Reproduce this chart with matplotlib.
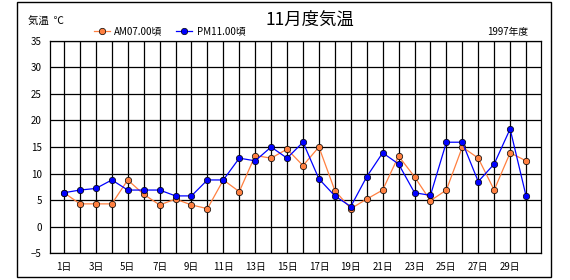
import matplotlib
matplotlib.use("Agg")
import matplotlib.pyplot as plt
from matplotlib.patches import Rectangle

plt.rcParams['font.family'] = ['Noto Sans CJK JP', 'DejaVu Sans']

days = list(range(1, 31))
am07 = [6.4, 4.3, 4.3, 4.3, 8.8, 6.1, 4.1, 5.2, 4.1, 3.4,
        8.8, 6.6, 13.4, 12.9, 14.6, 11.5, 15.0, 6.8, 3.4, 5.2,
        6.9, 13.3, 9.4, 4.9, 6.9, 15.0, 12.9, 6.9, 13.9, 12.4]
pm11 = [6.4, 6.9, 7.2, 8.8, 6.9, 6.9, 6.9, 5.8, 5.8, 8.8,
        8.8, 12.9, 12.4, 15.0, 12.9, 15.9, 9.0, 5.8, 3.8, 9.4,
        13.9, 11.8, 6.4, 5.9, 15.9, 15.9, 8.5, 11.8, 18.4, 5.8]
tick_days = list(range(1, 30, 2))
yticks = [35, 30, 25, 20, 15, 10, 5, 0, -5]

fig = plt.figure(figsize=(5.7, 2.8), dpi=100)
ax = fig.add_axes([50/570, 1-253.3/280, (540.7-50)/570, (253.3-40.7)/280])

orange = '#ff8040'
blue = '#0000ff'
l1, = ax.plot(days, am07, color=orange, lw=0.9, marker='o', ms=4.6,
              mfc=orange, mec='black', mew=0.5, label='AM07.00頃', zorder=3)
l2, = ax.plot(days, pm11, color=blue, lw=0.9, marker='o', ms=4.6,
              mfc=blue, mec='black', mew=0.5, label='PM11.00頃', zorder=4)

ax.set_xlim(0.12, 30.92)
ax.set_ylim(-5, 35)
ax.set_yticks(yticks)
ax.set_yticklabels([str(v) if v >= 0 else '−5' for v in yticks], fontsize=7)
ax.set_xticks(days, minor=False)
ax.set_xticklabels([f"{d}日" if d in tick_days else '' for d in days], fontsize=7)
ax.tick_params(length=0, pad=6)
ax.grid(True, color='black', lw=0.9)
ax.set_axisbelow(True)
for s in ax.spines.values():
    s.set_color('black')
    s.set_linewidth(0.9)

fig.text(310/570, 1-20/280, '11月度気温', ha='center', va='center', fontsize=12.5)
fig.text(28/570, 1-22/280, '気温  ℃', ha='left', va='center', fontsize=7.5)
fig.text(528/570, 1-32/280, '1997年度', ha='right', va='center', fontsize=7)

fig.legend(handles=[l1, l2], loc='center left', bbox_to_anchor=(94/570, 1-31/280),
           ncol=2, frameon=False, fontsize=7, handlelength=1.6, handletextpad=0.5,
           columnspacing=1.4, borderaxespad=0, borderpad=0)

fig.patches.append(Rectangle((17/570, 1-277/280), (551-17)/570, (277-2)/280,
                             transform=fig.transFigure, fill=False,
                             edgecolor='black', lw=1.0))

fig.savefig('out.png', dpi=100)
